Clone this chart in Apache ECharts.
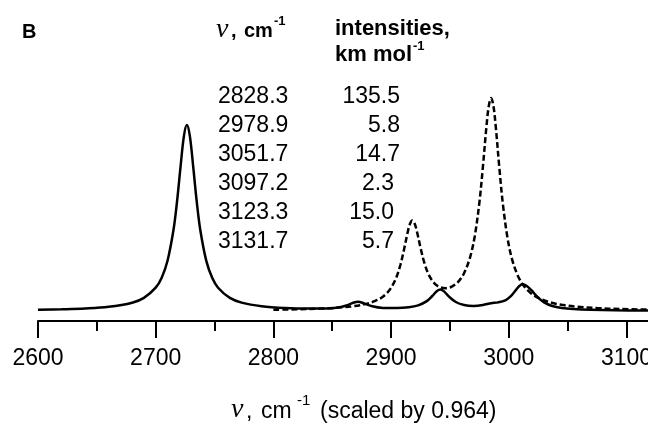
<!DOCTYPE html>
<html><head><meta charset="utf-8">
<script src="https://cdn.jsdelivr.net/npm/echarts@6.0.0/dist/echarts.min.js"></script>
<style>html,body{margin:0;padding:0;background:#fff}#c{width:648px;height:423px}</style>
</head><body><div id="c"></div>
<script>
// Computed spectrum (solid)
const solidX = [2600,2620,2640,2660,2680,2690,2700,2705,2710,2715,2718,2721,2724,2726.5,2729,2732,2735,2738,2743,2748,2753,2763,2773,2790,2810,2830,2845,2855,2862,2867,2872,2877,2884,2893,2905,2915,2923,2930,2935,2939,2942,2945,2949,2955,2962,2970,2978,2985,2991,2997,3002,3006,3009,3012,3015,3019,3024,3030,3037,3045,3055,3070,3090,3120];
const solidY = [1.2,1.7,2.5,4.2,8.3,13.1,23.3,33.1,50.0,80.2,108.0,142.8,175.1,186.0,175.1,142.8,108.0,80.2,50.1,33.2,23.3,13.1,8.4,4.8,3.0,2.4,2.6,3.6,5.5,7.9,9.3,7.6,4.7,3.1,2.9,3.7,5.6,9.6,15.0,19.9,21.4,19.6,14.6,9.0,6.0,5.1,6.0,7.8,8.6,10.7,15.2,20.9,25.0,26.7,25.3,21.1,14.5,8.6,5.0,3.1,2.0,1.2,0.7,0.4];
// Experimental spectrum (dashed)
const dashedX = [2800,2820,2840,2855,2868,2878,2886,2893,2899,2904,2908,2911,2914,2916,2918,2920,2922,2925,2928,2932,2937,2942,2947,2952,2957,2962,2967,2971,2975,2978,2981,2983,2985,2987,2989,2992,2995,2999,3003,3008,3013,3019,3026,3035,3045,3058,3075,3095,3120];
const dashedY = [1.2,1.7,2.4,3.4,4.8,6.9,9.8,14.3,21.5,32.2,46.5,61.5,78.2,87.0,90.6,87.6,79.3,63.4,49.3,36.3,27.4,23.6,22.8,24.6,29.2,37.8,53.2,74.2,108.1,143.9,184.0,204.9,212.9,204.7,183.6,143.1,106.9,72.6,50.9,34.6,24.8,17.6,12.6,8.7,6.2,4.3,2.9,2.0,1.4];
// Table text
const tableFreq = ['2828.3','2978.9','3051.7','3097.2','3123.3','3131.7'];
const tableInt = ['135.5','5.8','14.7','2.3','15.0','5.7'];
const panelLabel = 'B';
const axisMin = 2600, axisMax = 3120, majorStep = 100, minorStep = 50;

// layout constants
const SANS = '"Liberation Sans", Arial, sans-serif';
const SERIF = '"Liberation Serif", "Times New Roman", serif';
const intRight = [400,400,400,394,394,394];

const chart = echarts.init(document.getElementById('c'), null, {renderer:'canvas'});
const graphics = [];
function txt(x, y, text, font, align, vAlign){
  graphics.push({type:'text', x:x, y:y, silent:true, style:{text:text, font:font, fill:'#000', align:align||'left', verticalAlign:vAlign||'middle'}});
}
txt(22, 32, panelLabel, 'bold 20px ' + SANS);
txt(216, 30, 'ν', 'italic 28px ' + SERIF);
txt(231, 31, ',', 'bold 20px ' + SANS);
txt(244, 31, 'cm', 'bold 20px ' + SANS);
txt(274, 21, '-1', 'bold 13px ' + SANS);
txt(335, 29, 'intensities,', 'bold 22px ' + SANS);
txt(335, 55, 'km mol', 'bold 22px ' + SANS);
txt(413, 46, '-1', 'bold 13px ' + SANS);
tableFreq.forEach((t,i)=>txt(218, 96.5 + i*29.1, t, '23px ' + SANS));
tableInt.forEach((t,i)=>txt(intRight[i], 96.5 + i*29.1, t, '23px ' + SANS, 'right'));
txt(231, 410, 'ν', 'italic 28px ' + SERIF);
txt(246, 412, ',', '23px ' + SANS);
txt(261, 412, 'cm', '23px ' + SANS);
txt(297, 401, '-1', '15px ' + SANS);
txt(320, 412, '(scaled by 0.964)', '23px ' + SANS);

chart.setOption({
  animation:false,
  backgroundColor:'#fff',
  grid:{left:38, right:-2, top:21, bottom:102, containLabel:false, outerBoundsMode:'none'},
  xAxis:[{
    type:'value', min:axisMin, max:axisMax, interval:majorStep, position:'bottom',
    axisLine:{onZero:false, lineStyle:{color:'#000', width:2}},
    axisTick:{length:17, lineStyle:{color:'#000', width:2}},
    axisLabel:{fontSize:23, color:'#000', fontFamily:SANS, margin:26, showMaxLabel:false,
      hideOverlap:false, formatter:(v)=>String(v)},
    splitLine:{show:false}
  },{
    type:'value', min:axisMin, max:axisMax, interval:minorStep, position:'bottom', gridIndex:0,
    axisLine:{show:false, onZero:false},
    axisTick:{length:10, lineStyle:{color:'#000', width:2}},
    axisLabel:{show:false}, splitLine:{show:false}
  }],
  yAxis:{type:'value', min:-10, max:290, show:false},
  series:[{
    type:'line', xAxisIndex:0, data:solidX.map((x,i)=>[x, solidY[i]]), showSymbol:false, smooth:0.35,
    lineStyle:{color:'#000', width:2.5}
  },{
    type:'line', xAxisIndex:0, data:dashedX.map((x,i)=>[x, dashedY[i]]), showSymbol:false, smooth:0.35,
    lineStyle:{color:'#000', width:2.5, type:[6,3]}
  }],
  graphic:graphics
});
</script></body></html>
